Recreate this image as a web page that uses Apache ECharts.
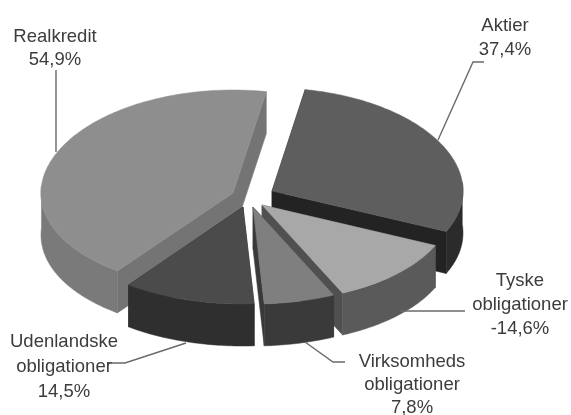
<!DOCTYPE html>
<html><head><meta charset="utf-8">
<style>html,body{margin:0;padding:0;background:#fff}#c{width:571px;height:415px;filter:blur(.6px)}</style>
<script src="https://cdn.jsdelivr.net/npm/echarts@6/dist/echarts.min.js"></script>
</head><body><div id="c"></div>
<script>
// Data, in pie order starting from the top, clockwise
const categories = ['Aktier','Tyske obligationer','Virksomheds obligationer','Udenlandske obligationer','Realkredit'];
const shares = [37.4,14.6,7.8,14.5,54.9];
const shareLabels = ['37,4%','-14,6%','7,8%','14,5%','54,9%'];

// Look of the tilted pie
const startDeg = 10, cx = 251, cy = 198, depth = 42;
const radiusX = [191,190,190,190,192];
const apexOffset = [[21,-7],[11,7],[2,9],[-8,9],[-18,-5]];
const topColor = ['#5e5e5e','#a8a8a8','#7f7f7f','#4b4b4b','#8e8e8e'];
const wallColor = ['#2b2b2b','#5a5a5a','#3a3a3a','#2f2f2f','#7a7a7a'];
const cutColor = ['#232323','#505050','#3a3a3a','#2f2f2f','#747474'];
const drawOrder = [4,0,1,2,3];

const total = shares.reduce((a,b)=>a+b,0);
const rad = d => d*Math.PI/180;
const ry = c => 100 + 3*c;

function slicePaths(i, a0, a1){
  const ax = cx + apexOffset[i][0], ay = cy + apexOffset[i][1];
  const rx = radiusX[i];
  const pt = d => { const t=rad(d), c=Math.cos(t); return [ax+rx*Math.sin(t), ay-ry(c)*c]; };
  const arc = [], deg = [];
  for (let d=a0; d<a1; d+=1) { arc.push(pt(d)); deg.push(d); }
  arc.push(pt(a1)); deg.push(a1);
  const down = p => [p[0], p[1]+depth];
  const apex = [ax,ay];
  const kids = [];
  const poly = (points, fill) => kids.push({type:'polygon', shape:{points}, style:{fill, stroke:fill, lineWidth:.5}});
  poly([apex, arc[0], down(arc[0]), down(apex)], cutColor[i]);
  poly([apex, arc[arc.length-1], down(arc[arc.length-1]), down(apex)], cutColor[i]);
  const front = arc.filter((p,k)=>{ const m=deg[k]%360; return m>=85 && m<=275; });
  if (front.length>1) poly(front.concat(front.slice().reverse().map(down)), wallColor[i]);
  poly([apex].concat(arc), topColor[i]);
  return kids;
}

const angles = []; let acc = startDeg;
shares.forEach(v=>{ const s=v/total*360; angles.push([acc,acc+s]); acc+=s; });

const labels = [
  {x:55,y:37,t:'Realkredit'},{x:55,y:60,t:shareLabels[4]},
  {x:505,y:26,t:'Aktier'},{x:505,y:50,t:shareLabels[0]},
  {x:520,y:281,t:'Tyske'},{x:520,y:305,t:'obligationer'},{x:520,y:329,t:shareLabels[1]},
  {x:412,y:362,t:'Virksomheds'},{x:412,y:385,t:'obligationer'},{x:412,y:408,t:shareLabels[2]},
  {x:64,y:342,t:'Udenlandske'},{x:64,y:367,t:'obligationer'},{x:64,y:392,t:shareLabels[3]}
];
const leaders = [
  [[56,70],[56,152]],
  [[484,62],[473,62],[438,140]],
  [[465,311],[400,311]],
  [[345,362],[333,362],[305,342]],
  [[186,343],[125,363],[108,363]]
];

const chart = echarts.init(document.getElementById('c'), null, {renderer:'canvas', width:571, height:415});
chart.setOption({
  backgroundColor:'#fff',
  animation:false,
  series:[{
    type:'custom',
    coordinateSystem:'none',
    data: drawOrder.map(i=>({name:categories[i], value:[i, shares[i]]})),
    renderItem:(p,api)=>{
      const i = api.value(0);
      return {type:'group', children:slicePaths(i, angles[i][0], angles[i][1])};
    }
  }],
  graphic:[
    ...leaders.map(points=>({type:'polyline', z:10, shape:{points}, style:{stroke:'#6a6a6a', lineWidth:1.4, fill:null}})),
    ...labels.map(l=>({type:'text', z:11, x:l.x, y:l.y, style:{text:l.t, align:'center', verticalAlign:'middle', font:'18.5px "Liberation Sans"', fill:'#3c3c3c'}}))
  ]
});
</script></body></html>
